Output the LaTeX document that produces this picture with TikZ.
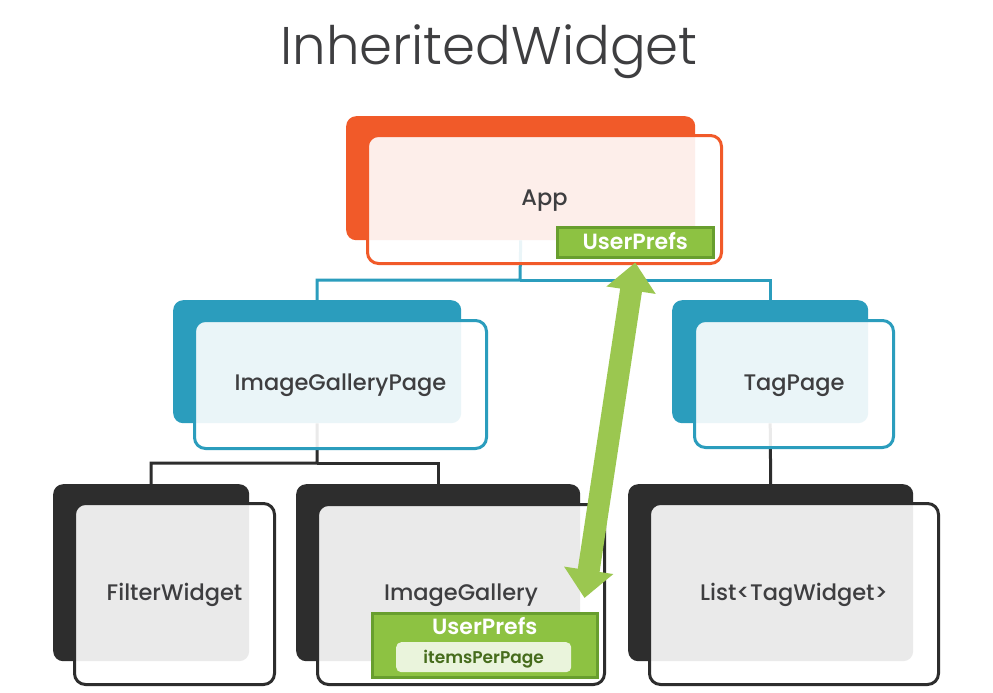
\documentclass[tikz,border=0pt]{standalone}
\usepackage{fontspec}
\setmainfont{Poppins}
\newfontfamily\titlefont{Poppins Light}
\newfontfamily\labelfont{Poppins Medium}
\newfontfamily\tagfont{Poppins SemiBold}
\usetikzlibrary{arrows.meta}
\usetikzlibrary{calc}
\definecolor{appOrange}{RGB}{241,90,41}
\definecolor{pageBlue}{RGB}{43,157,189}
\definecolor{widgetDark}{RGB}{45,45,45}
\definecolor{prefsGreen}{RGB}{141,194,66}
\definecolor{prefsEdge}{RGB}{104,158,46}
\definecolor{arrowGreen}{RGB}{155,199,80}
\definecolor{prefsPale}{RGB}{234,244,220}
\definecolor{prefsText}{RGB}{70,108,28}
\definecolor{labelGrey}{RGB}{62,62,64}
\tikzset{
  backbox/.style={anchor=north west, inner sep=0pt, rounded corners=10pt, fill=#1},
  frontbox/.style={anchor=north west, inner sep=0pt, rounded corners=11pt, draw=#1, line width=3pt,
    fill=white, fill opacity=0.9, text opacity=1, text=labelGrey,
    font=\labelfont\fontsize{22.5}{26}\selectfont, text height=12pt, text depth=0pt},
  treeline/.style={line width=3pt, draw=#1},
  prefstag/.style={anchor=north west, inner sep=0pt, fill=prefsGreen, draw=prefsEdge, line width=2.5pt},
  prefslabel/.style={inner sep=0pt, text=white, font=\tagfont\fontsize{22}{26}\selectfont, text height=15pt, text depth=0pt},
}
\begin{document}
\begin{tikzpicture}[x=1pt,y=-1pt]
  \useasboundingbox[fill=white] (0,0) rectangle (993,693); %same frame as the slide

  % Title
  \node (title) [anchor=base, text=labelGrey, font=\titlefont\fontsize{53}{60}\selectfont] at (489,65) {InheritedWidget};

  %Back boxes
  \node (appback) [backbox=appOrange, minimum width=349, minimum height=124] at (346,116) {};
  \node (igpback) [backbox=pageBlue, minimum width=288, minimum height=123] at (173,300) {};
  \node (tagback) [backbox=pageBlue, minimum width=196, minimum height=123] at (672,300) {};
  \node (filterback) [backbox=widgetDark, minimum width=196, minimum height=177] at (53,484) {};
  \node (galback) [backbox=widgetDark, minimum width=284, minimum height=177] at (296,484) {};
  \node (listback) [backbox=widgetDark, minimum width=285, minimum height=177] at (628,484) {};

  %Tree lines
  \coordinate (appbus) at (520,280);
  \coordinate (igpbus) at (317,463);
  \draw [treeline=pageBlue] (appback.south) -- (appbus) -| (igpback.north);
  \draw [treeline=pageBlue] (appbus) -| (tagback.north);
  \draw [treeline=widgetDark] (igpback.south) -- (igpbus) -| (filterback.north);
  \draw [treeline=widgetDark] (igpbus) -| (galback.north);
  \draw [treeline=widgetDark] (tagback.south) -- (listback.north);

  %Front boxes
  \node (appfront) [frontbox=appOrange, minimum width=354, minimum height=128] at (366,134) {App};
  \node (igpfront) [frontbox=pageBlue, minimum width=292, minimum height=128] at (193,319) {ImageGalleryPage};
  \node (tagfront) [frontbox=pageBlue, minimum width=199, minimum height=127] at (693,319) {TagPage};
  \node (filterfront) [frontbox=widgetDark, minimum width=200, minimum height=181] at (73,502) {FilterWidget};
  \node (galfront) [frontbox=widgetDark, minimum width=287, minimum height=180] at (316,503) {ImageGallery};
  \node (listfront) [frontbox=widgetDark, minimum width=289, minimum height=181] at (648,502) {List<TagWidget>};

  %UserPrefs tags
  \node (prefsapp) [prefstag, minimum width=156, minimum height=30] at (556,226) {};
  \node (prefsapplabel) [prefslabel] at (prefsapp.center) {UserPrefs};
  \node (prefsgal) [prefstag, minimum width=225, minimum height=64] at (371,612) {};
  \node (prefsgallabel) [prefslabel] at ($(prefsgal.north)+(0,15)$) {UserPrefs};
  \node (itemspp) [anchor=north west, inner sep=0pt, fill=prefsPale, rounded corners=5pt,
    minimum width=175, minimum height=30, text=prefsText,
    font=\tagfont\fontsize{17}{20}\selectfont, text height=12pt, text depth=0pt] at (396,642) {itemsPerPage};

  %Shared arrow
  \coordinate (arrowlow) at ($(prefsgal.north east)+(-14,-14)$);
  \draw [arrowGreen, line width=22pt, {Triangle[width=48pt,length=28pt]}-{Triangle[width=48pt,length=28pt]}]
    ($(prefsapp.south)+(0,4)$) -- (arrowlow);
\end{tikzpicture}
\end{document}
